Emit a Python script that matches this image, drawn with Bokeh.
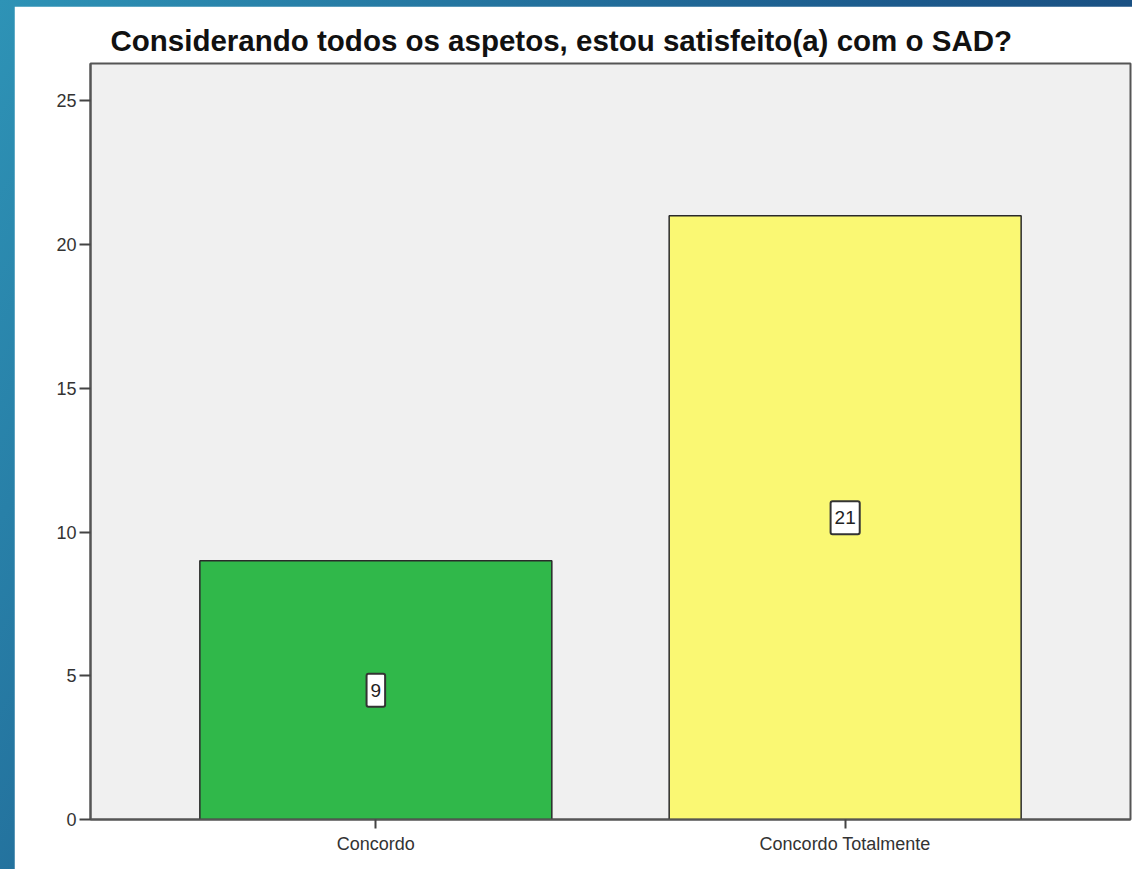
from bokeh.plotting import figure
from bokeh.models import ColumnDataSource, Range1d, FactorRange, FixedTicker
from bokeh.layouts import column
from bokeh.embed import file_html
from bokeh.resources import INLINE
from bokeh.core.properties import value

# ---- data ----
categories = ["Concordo", "Concordo Totalmente"]
counts = [9, 21]
bar_colors = ["#30b84a", "#faf873"]
y_ticks = [0, 5, 10, 15, 20, 25]
title_text = "Considerando todos os aspetos, estou satisfeito(a) com o SAD?"

source = ColumnDataSource(data=dict(
    cat=categories,
    count=counts,
    mid=[c / 2 for c in counts],
    label=[str(c) for c in counts],
    color=bar_colors,
))

p = figure(
    x_range=FactorRange(*categories, range_padding=0.108),
    y_range=Range1d(0, 26.3),
    width=1118, height=863,
    output_backend="svg", toolbar_location=None,
    min_border_left=76, min_border_right=2, min_border_top=57, min_border_bottom=50,
    background_fill_color="#f0f0f0", border_fill_color="white",
    margin=(6, 0, 0, 14),
)

p.title.text = title_text
p.title.text_font = "Liberation Sans"
p.title.text_font_style = "bold"
p.title.text_font_size = "29.5px"
p.title.text_color = "#111111"
p.title.align = "left"
p.title.offset = 20
p.title.standoff = 13

p.vbar(x="cat", top="count", width=0.75, source=source, fill_color="color",
       line_color="#2a2a2a", line_width=1.5)

p.text(x="cat", y="mid", text="label", source=source,
       text_align="center", text_baseline="middle",
       text_font=value("Liberation Sans"), text_font_size="19px", text_color="#222222",
       background_fill_color="white", border_line_color="#333333", border_line_width=2,
       padding=dict(x=4, y=10), border_radius=2)

p.grid.visible = False
p.outline_line_color = "#555555"
p.outline_line_width = 2

for ax in (p.xaxis[0], p.yaxis[0]):
    ax.axis_line_color = "#555555"
    ax.axis_line_width = 2
    ax.major_tick_line_color = "#444444"
    ax.major_tick_line_width = 2
    ax.minor_tick_line_color = None
    ax.major_tick_in = 0
    ax.major_label_text_font = "Liberation Sans"
    ax.major_label_text_color = "#333333"

p.yaxis.ticker = FixedTicker(ticks=y_ticks)
p.yaxis.major_tick_out = 11
p.yaxis.major_label_standoff = 3
p.yaxis.major_label_text_font_size = "18px"

p.xaxis.major_tick_out = 9
p.xaxis.major_label_standoff = 5
p.xaxis.major_label_text_font_size = "18px"

layout = column(p, styles={"background": "linear-gradient(120deg, #2e93b6 0%, #1c5a8c 55%, #163d70 100%)"})

open("out.html", "w").write(file_html(layout, INLINE))
